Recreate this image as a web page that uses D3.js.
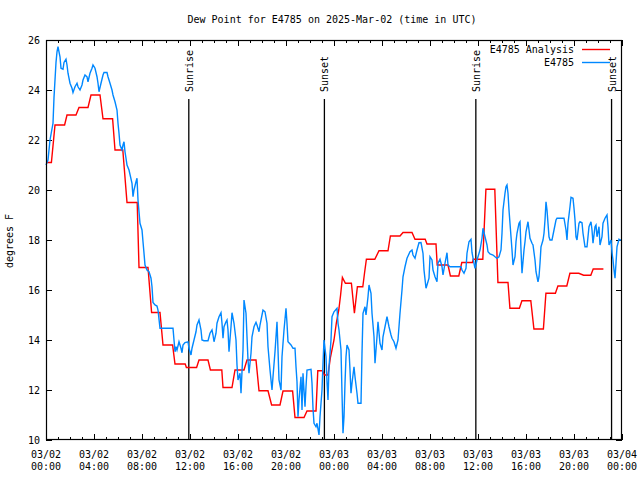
<!DOCTYPE html>
<html><head><meta charset="utf-8">
<script src="https://cdn.jsdelivr.net/npm/d3@7"></script>
<style>body{margin:0;background:#fff}svg{display:block}text{font-family:"DejaVu Sans Mono",monospace;font-size:10px;fill:#000}</style>
</head><body>
<svg id="c" width="640" height="480"></svg>
<script>
// ---- data ----
const titleText = "Dew Point for E4785 on 2025-Mar-02 (time in UTC)";
const yLabel = "degrees F";
const yTicks = [10, 12, 14, 16, 18, 20, 22, 24, 26];
const seriesNames = ["E4785 Analysis", "E4785"];
const seriesColors = ["#ff0000", "#0088ff"];
// Analysis (red): held values, start/end in hours after 03/02 00:00 UTC
const redStart = [0,0.75,1.75,2.75,3.75,4.75,5.75,6.75,7.75,8.8,9.75,10.75,11.7,12.75,13.7,14.75,15.75,16.75,17.75,18.8,19.75,20.75,21.75,22.65,23.2,23.7,24.0,24.2,24.4,24.55,24.7,24.95,25.7,25.95,26.55,26.7,27.75,28.7,29.75,30.75,31.75,32.6,33.7,34.65,35.6,36.66,37.66,38.66,39.66,40.66,41.66,42.66,43.66,44.8,45.6];
const redEnd   = [0.45,1.55,2.5,3.5,4.5,5.55,6.4,7.6,8.5,9.5,10.55,11.6,12.55,13.5,14.65,15.5,16.5,17.5,18.5,19.5,20.55,21.5,22.5,23.05,23.5,23.7,24.0,24.2,24.4,24.55,24.7,25.45,25.7,26.4,26.55,27.4,28.5,29.5,30.5,31.6,32.5,33.5,34.4,35.55,36.4,37.4,38.5,39.45,40.4,41.45,42.45,43.4,44.4,45.4,46.45];
const redVal   = [21.1,22.6,23.0,23.3,23.8,22.85,21.6,19.5,16.9,15.1,13.8,13.04,12.9,13.2,12.8,12.1,12.8,13.2,11.97,11.4,11.96,10.9,11.16,12.77,12.6,13.3,14.0,14.7,15.2,15.8,16.5,16.27,15.07,16.13,16.7,17.23,17.57,18.16,18.3,18.03,17.84,17.0,16.56,17.1,17.23,20.03,16.3,15.27,15.57,14.44,15.87,16.16,16.67,16.59,16.84];
// Observations (blue): minutes after 03/02 00:00 UTC
const blueMin = [0,10,20,35,40,50,55,60,70,75,85,90,100,105,110,120,130,135,145,155,160,170,180,185,195,205,210,220,230,235,245,255,260,265,275,285,290,305,310,320,330,335,345,355,360,365,370,380,385,390,395,400,405,415,430,435,440,450,455,460,465,470,480,485,490,495,505,515,525,530,535,545,555,560,570,635,640,645,650,655,665,675,680,685,695,710,715,725,730,740,750,755,765,775,780,790,810,820,830,835,840,850,855,865,875,880,885,890,900,905,910,915,925,930,940,950,955,960,970,975,985,990,1000,1005,1010,1015,1025,1030,1040,1050,1055,1065,1070,1080,1085,1095,1105,1110,1120,1130,1135,1145,1155,1160,1165,1175,1180,1190,1200,1205,1210,1225,1235,1245,1250,1255,1260,1265,1275,1280,1285,1295,1300,1305,1325,1330,1335,1340,1350,1355,1365,1370,1380,1385,1390,1400,1405,1410,1415,1425,1430,1440,1455,1460,1465,1475,1480,1485,1490,1495,1500,1505,1515,1520,1525,1530,1540,1545,1555,1560,1575,1580,1585,1595,1600,1610,1615,1625,1630,1640,1645,1655,1660,1670,1680,1685,1695,1705,1715,1725,1730,1740,1750,1760,1770,1780,1785,1795,1805,1820,1830,1835,1845,1855,1865,1875,1885,1890,1900,1905,1915,1920,1930,1935,1945,1955,1960,1970,1980,1985,1995,2005,2010,2020,2075,2080,2090,2100,2105,2115,2125,2130,2140,2145,2155,2160,2170,2180,2185,2195,2205,2210,2220,2235,2245,2255,2265,2275,2280,2285,2295,2300,2305,2310,2315,2325,2330,2335,2345,2350,2355,2365,2370,2375,2380,2390,2395,2400,2410,2415,2420,2430,2435,2445,2450,2460,2465,2470,2475,2485,2490,2495,2500,2505,2515,2520,2530,2540,2550,2555,2590,2600,2605,2610,2620,2625,2635,2640,2645,2650,2655,2665,2670,2680,2685,2695,2705,2710,2715,2725,2730,2735,2745,2750,2755,2765,2770,2780,2785,2795,2805,2810,2815,2825,2830,2835,2840,2845,2850,2855,2865,2870,2880];
const blueVal = [21.0,21.2,22.0,22.67,23.7,25.1,25.53,25.73,25.33,24.87,24.83,25.1,25.23,25.0,24.67,24.27,24.07,23.9,24.13,24.27,24.13,24.0,24.2,24.4,24.6,24.53,24.33,24.67,24.87,25.0,24.87,24.53,24.27,23.93,24.27,24.6,24.7,24.7,24.53,24.27,24.0,23.8,23.53,23.2,22.67,22.27,21.8,21.6,21.8,21.93,21.53,21.27,21.0,20.8,20.27,19.73,20.0,20.33,20.47,19.6,19.13,18.67,18.4,17.93,17.47,17.0,16.8,16.73,16.47,16.13,15.5,15.4,15.36,15.2,14.47,14.47,14.0,13.53,13.73,13.6,13.93,13.67,13.49,13.8,13.9,13.93,13.67,13.4,13.67,14.0,14.33,14.6,14.8,14.4,14.0,13.97,13.97,14.27,14.4,14.2,13.93,14.27,14.67,14.93,15.09,14.67,14.07,14.53,14.73,14.8,14.4,13.53,14.53,15.09,14.67,14.0,13.0,12.4,12.67,11.87,13.6,15.6,15.07,14.13,13.2,12.67,13.47,14.13,14.53,14.71,14.6,14.33,14.6,15.0,15.2,15.13,14.67,13.73,12.8,12.0,12.53,13.53,14.73,13.6,12.4,12.0,13.33,14.4,15.27,14.67,13.93,13.8,13.67,13.67,12.93,12.33,10.93,11.6,12.53,11.2,12.67,11.33,12.13,12.8,12.83,12.27,11.27,10.67,10.53,10.67,10.2,10.93,12.0,13.07,14.0,13.33,12.33,11.6,12.93,14.0,14.93,15.13,15.27,14.67,14.4,13.6,11.87,10.27,10.93,12.27,13.33,13.8,13.6,12.8,11.87,12.27,12.93,12.53,11.87,11.47,11.47,13.47,15.07,15.33,15.0,15.73,16.2,15.87,15.07,14.13,13.07,14.13,14.73,13.87,13.6,14.13,14.53,14.93,14.53,14.2,14.07,13.93,13.67,14.0,15.07,16.0,16.53,16.93,17.27,17.53,17.6,17.4,17.27,17.6,17.89,17.9,17.47,16.8,16.07,16.2,16.47,17.33,17.2,16.8,16.53,16.33,17.07,17.23,16.93,16.6,17.07,17.49,17.0,16.93,16.93,16.8,16.67,16.87,17.47,17.93,18.03,17.5,17.07,16.87,17.2,17.33,17.6,18.07,18.47,18.13,17.8,17.53,17.44,17.4,17.33,17.27,17.33,17.6,18.27,19.2,19.87,20.13,20.2,19.87,19.2,18.13,17.6,17.0,17.33,17.93,18.27,18.67,18.73,17.6,16.67,17.6,17.93,18.33,18.73,18.4,18.07,17.87,17.8,17.2,16.73,16.33,16.53,17.07,17.73,18.0,18.27,18.8,19.53,19.2,18.13,18.0,18.0,18.4,18.8,18.87,18.87,18.4,18.0,18.67,19.33,19.71,19.67,19.27,18.8,18.13,18.0,18.67,18.73,18.69,18.27,17.73,17.73,18.13,18.53,18.73,18.4,17.87,18.53,18.6,18.13,18.53,17.8,18.13,18.67,18.87,19.0,18.53,17.8,18.0,17.5,17.2,16.8,16.47,17.07,17.73,18.03,18.0,18.0];
// sun events: hours after 03/02 00:00 UTC
const sunHours = [11.9, 23.2, 35.82, 47.13];
const sunLabels = ["Sunrise", "Sunset", "Sunrise", "Sunset"];

// ---- chart ----
const W = 640, H = 480;
const m = {l: 46, r: 622, t: 40, b: 440};
const t0 = Date.UTC(2025, 2, 2);
const hr = h => new Date(t0 + h * 3600e3);
const svg = d3.select("#c");
const x = d3.scaleUtc().domain([hr(0), hr(48)]).range([m.l, m.r]);
const y = d3.scaleLinear().domain([10, 26]).range([m.b, m.t]);

// title
svg.append("text").attr("x", 332).attr("y", 23).attr("text-anchor", "middle").text(titleText);
// y label
svg.append("text").attr("transform", "translate(13,241) rotate(-90)").attr("text-anchor", "middle").text(yLabel);

// axes (inward ticks)
const majorTimes = d3.utcHour.every(4).range(hr(0), hr(48.01));
const minorTimes = d3.utcHour.every(1).range(hr(0), hr(48.01));
function styleAxis(g){ g.select(".domain").remove(); g.selectAll("line").attr("stroke","#000").attr("shape-rendering","crispEdges"); }
svg.append("g").attr("transform", `translate(0,${m.b})`).call(d3.axisBottom(x).tickValues(minorTimes).tickSize(-3).tickFormat("")).call(styleAxis);
svg.append("g").attr("transform", `translate(0,${m.b})`).call(d3.axisBottom(x).tickValues(majorTimes).tickSize(-6).tickFormat("")).call(styleAxis);
svg.append("g").attr("transform", `translate(0,${m.t})`).call(d3.axisTop(x).tickValues(minorTimes).tickSize(-3).tickFormat("")).call(styleAxis);
svg.append("g").attr("transform", `translate(0,${m.t})`).call(d3.axisTop(x).tickValues(majorTimes).tickSize(-6).tickFormat("")).call(styleAxis);
const yl = svg.append("g").attr("transform", `translate(${m.l},0)`).call(d3.axisLeft(y).tickValues(yTicks).tickSize(-6).tickPadding(6).tickFormat(d3.format("d"))).call(styleAxis);
yl.selectAll("text").attr("font-family", "DejaVu Sans Mono").attr("font-size", 10).attr("fill", "#000");
svg.append("g").attr("transform", `translate(${m.r},0)`).call(d3.axisRight(y).tickValues(yTicks).tickSize(-6).tickFormat("")).call(styleAxis);

// x labels (two lines)
const fDate = d3.utcFormat("%m/%d"), fTime = d3.utcFormat("%H:%M");
const xl = svg.append("g").selectAll("text").data(majorTimes).join("text")
  .attr("x", d => x(d)).attr("text-anchor", "middle");
xl.append("tspan").attr("x", d => x(d)).attr("y", 458).text(fDate);
xl.append("tspan").attr("x", d => x(d)).attr("y", 470).text(fTime);

// sun lines
sunHours.forEach((h, i) => {
  const sx = x(hr(h));
  svg.append("line").attr("x1", sx).attr("x2", sx).attr("y1", 99).attr("y2", m.b)
    .attr("stroke", "#000").attr("stroke-width", 1.3);
  svg.append("text").attr("transform", `translate(${sx + 4},92) rotate(-90)`).text(sunLabels[i]);
});

// series
const redPts = [];
redStart.forEach((s, i) => { redPts.push([s, redVal[i]]); if (redEnd[i] > s) redPts.push([redEnd[i], redVal[i]]); });
const bluePts = blueMin.map((mm, i) => [mm / 60, blueVal[i]]);
const line = d3.line().x(d => x(hr(d[0]))).y(d => y(d[1]));
svg.append("path").attr("d", line(redPts)).attr("fill", "none").attr("stroke", seriesColors[0]).attr("stroke-width", 1.4);
svg.append("path").attr("d", line(bluePts)).attr("fill", "none").attr("stroke", seriesColors[1]).attr("stroke-width", 1.4);

// frame
svg.append("rect").attr("x", m.l + 0.5).attr("y", m.t + 0.5).attr("width", m.r - m.l - 1).attr("height", m.b - m.t - 1)
  .attr("fill", "none").attr("stroke", "#000").attr("stroke-width", 1.2);

// legend
seriesNames.forEach((n, i) => {
  const ly = 49.5 + i * 13;
  svg.append("text").attr("x", 574).attr("y", ly + 3.5).attr("text-anchor", "end").text(n);
  svg.append("line").attr("x1", 582).attr("x2", 610).attr("y1", ly).attr("y2", ly)
    .attr("stroke", seriesColors[i]).attr("stroke-width", 1.4);
});
</script>
</body></html>
